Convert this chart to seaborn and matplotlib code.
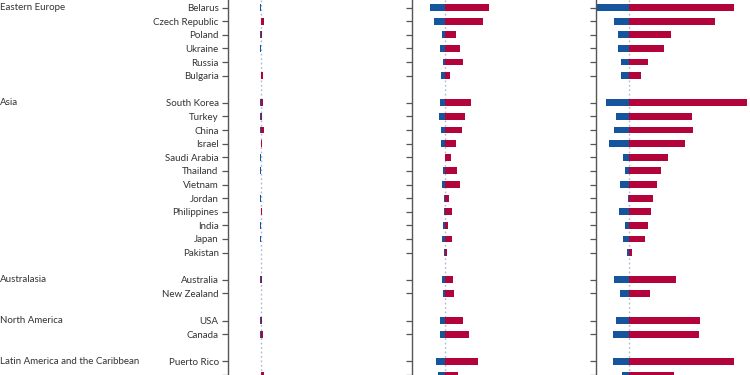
import numpy as np
import pandas as pd
import matplotlib
matplotlib.use("Agg")
import matplotlib.pyplot as plt
import matplotlib.transforms as mtransforms
import seaborn as sns

# ---------------- data ----------------
countries = ["Belarus", "Czech Republic", "Poland", "Ukraine", "Russia", "Bulgaria",
             "South Korea", "Turkey", "China", "Israel", "Saudi Arabia", "Thailand",
             "Vietnam", "Jordan", "Philippines", "India", "Japan", "Pakistan",
             "Australia", "New Zealand", "USA", "Canada", "Puerto Rico", ""]
regions = (["Eastern Europe"] * 6 + ["Asia"] * 12 + ["Australasia"] * 2 +
           ["North America"] * 2 + ["Latin America and the Caribbean"] * 2)

p1_neg = [1.5, 0, 1, 1.5, 0, 0, 1, 1, 1.5, 0, 1.2, 1, 0, 1, 0, 1, 1, 0, 1, 0, 1, 1.5, 0, 0]
p1_pos = [0, 3.3, 1, 0.3, 0, 1.5, 2, 1, 3, 0.8, 0.3, 0.3, 0, 0.3, 0.8, 0.3, 0.3, 0, 1, 0, 1, 2.3, 0, 2.5]

p2_neg = [14.7, 10.7, 3.3, 5.3, 1.7, 3.7, 5.3, 6, 4, 3.7, 0, 2, 2.7, 1.3, 0.7, 1.7, 2.7, 0.7,
          2.7, 1.7, 4.7, 5.3, 9.3, 6.7]
p2_pos = [43.7, 38, 11.3, 14.7, 18.3, 4.7, 26.3, 19.7, 16.7, 11, 5.7, 12.3, 15.3, 4.3, 6.7, 3,
          6.7, 2.3, 8, 9.3, 18.3, 23.7, 33, 13]

p3_neg = [31.7, 14.7, 10.7, 10.7, 8.3, 8.3, 23, 13.3, 15.3, 20.3, 6, 4.3, 9.3, 1, 9.7, 4, 6, 2,
          15.3, 8.7, 13.3, 16, 16.3, 7.3]
p3_pos = [105, 86, 41.7, 35.3, 19.3, 11.7, 118, 63.3, 64, 56.3, 39.3, 32, 28.3, 24.3, 21.7, 19,
          16.3, 2.7, 47, 21, 71, 70.3, 105, 45.3]

BLUE = "#14559e"
RED = "#b2043b"
GREY = "#555555"
TEXT = "#333333"

# row positions: one blank row between region groups
rows = []
r = 0
prev = None
for reg in regions:
    if prev is not None and reg != prev:
        r += 1
    rows.append(r)
    r += 1
    prev = reg

df = pd.DataFrame({"country": countries, "region": regions, "row": rows})

sns.set_theme(style="white")
plt.rcParams["font.family"] = ["Lato", "DejaVu Sans"]

fig = plt.figure(figsize=(7.5, 3.75), dpi=100)

# choose a font size so that the label width matches the reference (~66 px)
renderer = fig.canvas.get_renderer()
probe = fig.text(0, 0, "Czech Republic", fontsize=10)
w10 = probe.get_window_extent(renderer).width
probe.remove()
FS = 10 * 66.0 / w10

panel_left = [228 / 750, 412 / 750, 596 / 750]
panel_w = 172 / 750
xlim = (-33, 139)
row0_px, row_px = 7.7, 13.75
ylim = ((375 - row0_px) / row_px, -row0_px / row_px)

panels = [(p1_neg, p1_pos), (p2_neg, p2_pos), (p3_neg, p3_pos)]
axes = []
for i, (neg, pos) in enumerate(panels):
    ax = fig.add_axes([panel_left[i], 0, panel_w, 1])
    d = df.copy()
    d["neg"] = -np.array(neg, dtype=float)
    d["pos"] = np.array(pos, dtype=float)
    ax.axvline(0, color="#a9b8ce", lw=1.0, ls=(0, (1.2, 2.0)), zorder=0)
    sns.barplot(data=d, x="neg", y="row", orient="h", native_scale=True,
                color=BLUE, saturation=1, width=0.5, errorbar=None, ax=ax,
                linewidth=0)
    sns.barplot(data=d, x="pos", y="row", orient="h", native_scale=True,
                color=RED, saturation=1, width=0.5, errorbar=None, ax=ax,
                linewidth=0)
    ax.set_xlim(*xlim)
    ax.set_ylim(*ylim)
    ax.set_xlabel("")
    ax.set_ylabel("")
    ax.set_xticks([])
    ax.set_yticks(d["row"])
    if i == 0:
        ax.set_yticklabels(d["country"], fontsize=FS, color=TEXT)
    else:
        ax.set_yticklabels([])
    ax.tick_params(axis="y", which="both", left=True, length=4.5, width=0.9,
                   color=GREY, pad=2.2)
    for s in ["top", "right", "bottom"]:
        ax.spines[s].set_visible(False)
    ax.spines["left"].set_color(GREY)
    ax.spines["left"].set_linewidth(1.0)
    ax.patch.set_alpha(0)
    axes.append(ax)

# region labels
trans = mtransforms.blended_transform_factory(fig.transFigure, axes[0].transData)
first_rows = df.groupby("region", sort=False)["row"].min()
for reg, rr in first_rows.items():
    axes[0].text(0.0, rr, reg, transform=trans, ha="left", va="center",
                 fontsize=FS, color=TEXT, clip_on=False)

fig.savefig("out.png", dpi=100)
